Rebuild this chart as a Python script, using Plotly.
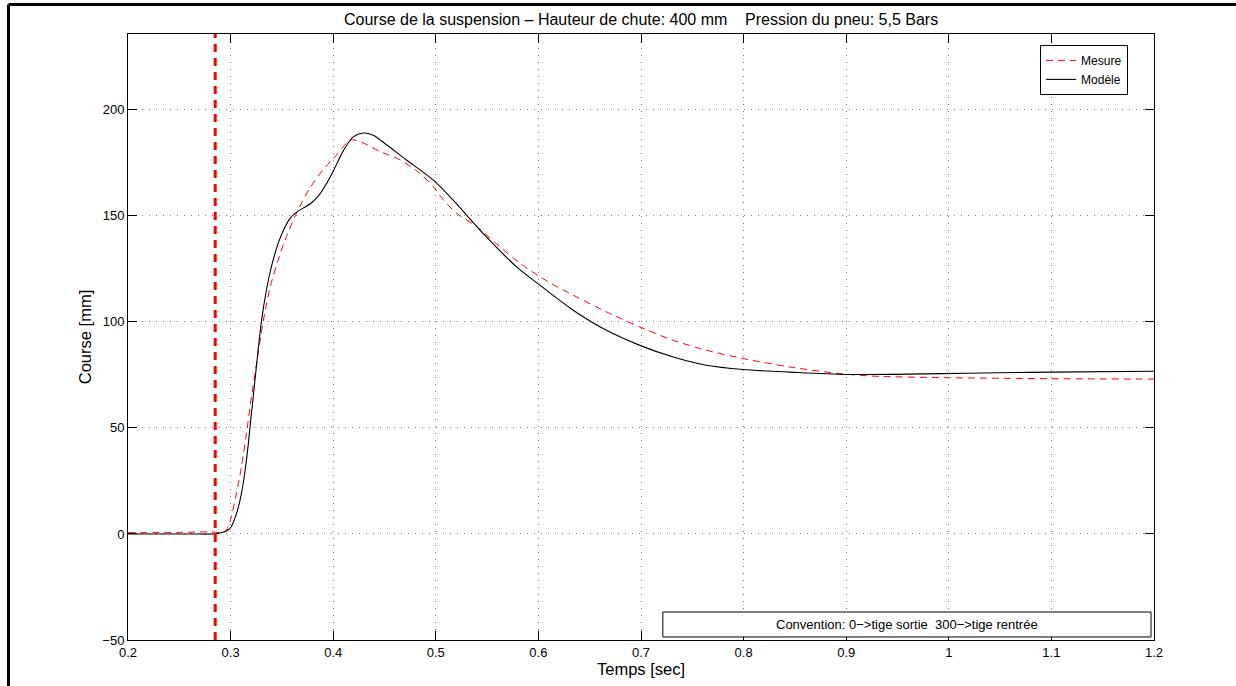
import plotly.graph_objects as go

# ---- data ----
t_mesure = [0.200, 0.250, 0.280, 0.2942, 0.2991, 0.3056, 0.3105, 0.3154, 0.3203, 0.3268,
            0.3317, 0.3382, 0.3463, 0.3544, 0.3642, 0.3772, 0.3902, 0.4032, 0.4130, 0.4179,
            0.4293, 0.4455, 0.4650, 0.4845, 0.4975, 0.5073, 0.5203, 0.5398, 0.5625, 0.5820,
            0.6096, 0.6339, 0.6664, 0.6989, 0.7314, 0.7639, 0.7996, 0.8451, 0.8939, 0.9263,
            0.9914, 1.050, 1.100, 1.200]
c_mesure = [0.6, 0.7, 1.0, 0.9, 5.5, 18.9, 31.5, 47.2, 64.6, 85.0,
            100.0, 115.7, 129.1, 140.2, 151.2, 163.0, 171.7, 178.7, 184.3, 185.8,
            184.3, 180.3, 176.4, 170.0, 163.8, 157.5, 151.2, 144.9, 135.4, 127.6,
            118.9, 112.6, 104.7, 97.6, 91.3, 86.6, 82.7, 78.7, 75.6, 74.4,
            73.7, 73.4, 73.2, 73.0]

t_modele = [0.200, 0.260, 0.2875, 0.2991, 0.3056, 0.3105, 0.3154, 0.3203, 0.3251, 0.3300,
            0.3349, 0.3398, 0.3463, 0.3528, 0.3580, 0.3640, 0.3707, 0.3780, 0.3850, 0.3918,
            0.4000, 0.4098, 0.4195, 0.4293, 0.4390, 0.4520, 0.4714, 0.4974, 0.5169, 0.5461,
            0.5787, 0.6014, 0.6339, 0.6664, 0.6989, 0.7314, 0.7639, 0.7996, 0.8451, 0.9004,
            0.9914, 1.050, 1.100, 1.200]
c_modele = [0.0, 0.0, 0.2, 2.4, 9.4, 18.9, 34.6, 56.7, 78.7, 100.0,
            115.0, 126.0, 137.0, 144.5, 148.8, 151.6, 153.6, 155.8, 159.0, 163.8,
            171.0, 180.6, 187.2, 189.0, 188.0, 183.5, 176.3, 166.9, 157.4, 141.7,
            125.9, 117.3, 105.5, 96.0, 88.9, 83.4, 79.5, 77.5, 76.3, 75.2,
            75.6, 76.0, 76.3, 76.7]

t_impact = 0.285
x_ticks = [0.2, 0.3, 0.4, 0.5, 0.6, 0.7, 0.8, 0.9, 1.0, 1.1, 1.2]
x_labels = ["0.2", "0.3", "0.4", "0.5", "0.6", "0.7", "0.8", "0.9", "1", "1.1", "1.2"]
y_ticks = [-50, 0, 50, 100, 150, 200]
y_labels = ["\u221250", "0", "50", "100", "150", "200"]

FONT = "Liberation Sans, Arial, Helvetica, sans-serif"

fig = go.Figure()
fig.add_trace(go.Scatter(x=t_mesure, y=c_mesure, mode="lines", name="Mesure",
                         line=dict(color="#ff0000", width=1, dash="7px,5px", shape="spline", smoothing=0.8)))
fig.add_trace(go.Scatter(x=t_modele, y=c_modele, mode="lines", name="Modèle",
                         line=dict(color="black", width=1.1, shape="spline", smoothing=0.8)))
fig.add_trace(go.Scatter(x=[t_impact, t_impact], y=[-50, 240], mode="lines", showlegend=False,
                         line=dict(color="#ff0000", width=3, dash="8px,6px")))

axis_common = dict(showline=True, linecolor="black", linewidth=1, mirror="ticks",
                   ticks="inside", ticklen=9, tickcolor="black", tickwidth=1,
                   showgrid=True, gridcolor="#7a7a7a", griddash="1px,6px", gridwidth=1,
                   zeroline=False, automargin=False,
                   tickfont=dict(family=FONT, size=13, color="black"))

fig.update_xaxes(range=[0.2, 1.2], tickvals=x_ticks, ticktext=x_labels, **axis_common)
fig.update_yaxes(range=[-50, 235.7], tickvals=y_ticks, ticktext=y_labels,
                 title=dict(text="Course [mm]", font=dict(family=FONT, size=16.5, color="black"), standoff=6),
                 **axis_common)

# x axis label (placed tight under the tick labels, as in the original)
fig.add_annotation(x=0.5, y=0, xref="paper", yref="paper", xanchor="center", yanchor="middle",
                   yshift=-29, text="Temps [sec]", showarrow=False,
                   font=dict(family=FONT, size=16.5, color="black"))

# outer frame (figure border)
fig.add_shape(type="line", xref="paper", yref="paper", x0=-0.1165, x1=1.1, y0=1.0487, y1=1.0487,
              line=dict(color="black", width=3))
fig.add_shape(type="line", xref="paper", yref="paper", x0=-0.1165, x1=-0.1165, y0=1.0487, y1=-0.1,
              line=dict(color="black", width=3))

# convention box
bx0, bx1, by0, by1 = 0.5213, 0.9971, 0.005, 0.0462
fig.add_shape(type="rect", xref="paper", yref="paper", x0=bx0, x1=bx1, y0=by0, y1=by1,
              line=dict(color="black", width=1), fillcolor="white", layer="above")
fig.add_annotation(x=(bx0 + bx1) / 2, y=(by0 + by1) / 2, xref="paper", yref="paper",
                   xanchor="center", yanchor="middle",
                   text="Convention: 0\u2212>tige sortie\u00a0\u00a0300\u2212>tige rentrée",
                   showarrow=False, font=dict(family=FONT, size=13, color="black"))

# title
fig.add_annotation(x=0.5, y=1.0, xref="paper", yref="paper", xanchor="center", yanchor="bottom", yshift=4,
                   text="Course de la suspension \u2013 Hauteur de chute: 400 mm\u00a0\u00a0\u00a0\u00a0Pression du pneu: 5,5 Bars",
                   showarrow=False, font=dict(family=FONT, size=16, color="black"))

fig.update_layout(
    width=1236, height=686,
    margin=dict(l=128, r=82, t=34, b=46),
    paper_bgcolor="white", plot_bgcolor="white",
    font=dict(family=FONT, color="black"),
    legend=dict(x=0.9747, y=0.982, xanchor="right", yanchor="top",
                bgcolor="white", bordercolor="black", borderwidth=1,
                font=dict(family=FONT, size=12, color="black"),
                tracegroupgap=0, itemwidth=30),
    showlegend=True,
)

fig.write_html("out.html", config={"displayModeBar": False},
               post_script="document.body.style.margin='0px';")
